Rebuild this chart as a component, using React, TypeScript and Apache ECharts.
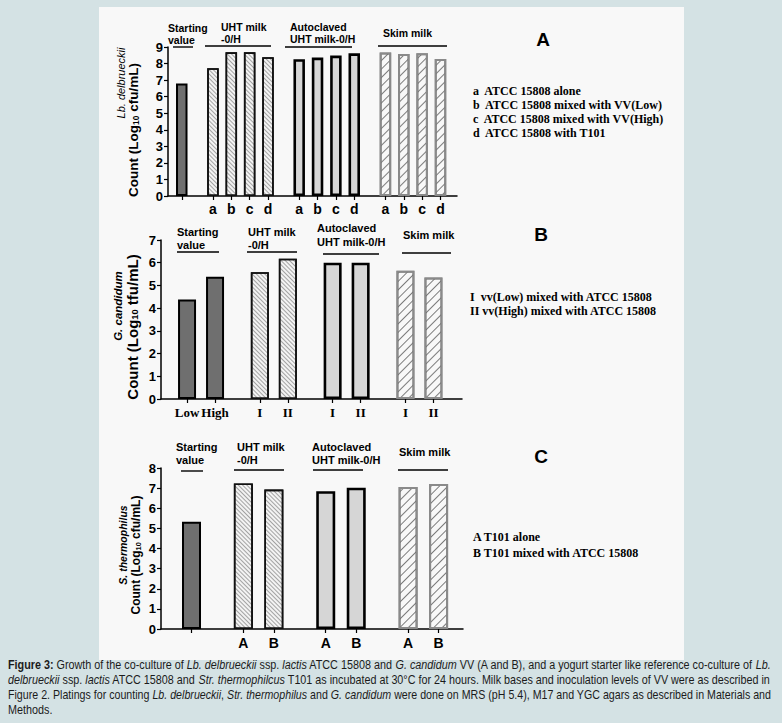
import React, { useEffect, useRef } from "react";
import * as echarts from "echarts";

// ---------- DATA ----------
// Panel A: Lb. delbrueckii counts
const aStartLabels = [""];
const aStartValues = [6.8];
const aLabels = ["a", "b", "c", "d"];
const aUHT = [7.72, 8.68, 8.68, 8.38];
const aAutoclaved = [8.26, 8.36, 8.48, 8.62];
const aSkim = [8.67, 8.57, 8.62, 8.28];

// Panel B: G. candidum counts
const bStartLabels = ["Low", "High"];
const bStartValues = [4.38, 5.38];
const bLabels = ["I", "II"];
const bUHT = [5.58, 6.18];
const bAutoclaved = [6.0, 6.0];
const bSkim = [5.65, 5.35];

// Panel C: S. thermophilus counts
const cStartLabels = [""];
const cStartValues = [5.33];
const cLabels = ["A", "B"];
const cUHT = [7.23, 6.93];
const cAutoclaved = [6.85, 7.02];
const cSkim = [7.05, 7.2];

const groupTitles = [["Starting", "value"], ["UHT milk", "-0/H"], ["Autoclaved", "UHT milk-0/H"], ["Skim milk"]];
const legendA = ["a  ATCC 15808 alone", "b  ATCC 15808 mixed with VV(Low)", "c  ATCC 15808 mixed with VV(High)", "d  ATCC 15808 with T101"];
const legendB = ["I  vv(Low) mixed with ATCC 15808", "II vv(High) mixed with ATCC 15808"];
const legendC = ["A T101 alone", "B T101 mixed with ATCC 15808"];
const captionLines = [
  "{b|Figure 3:} Growth of the co-culture of {i|Lb. delbrueckii} ssp. {i|lactis} ATCC 15808 and {i|G. candidum} VV (A and B), and a yogurt starter like reference co-culture of {i|Lb.}",
  "{i|delbrueckii} ssp. {i|lactis} ATCC 15808 and {i|Str. thermophilcus} T101 as incubated at 30°C for 24 hours. Milk bases and inoculation levels of VV were as described in",
  "Figure 2. Platings for counting {i|Lb. delbrueckii}, {i|Str. thermophilus} and {i|G. candidum} were done on MRS (pH 5.4), M17 and YGC agars as described in Materials and",
  "Methods.",
];

// ---------- STYLE ----------
const SANS = "'Liberation Sans', Arial, Helvetica, sans-serif";
const SERIF = "'Liberation Serif', 'Times New Roman', serif";
const CAP_SIZE = 12.5;

const groupStyles: any[] = [
  { color: "#6f6f6f", borderColor: "#000", borderWidth: 2, decal: "none" },
  {
    color: "#f3f3f3", borderColor: "#111", borderWidth: 1.6,
    decal: { symbol: "rect", symbolSize: 1, dashArrayX: [1, 0], dashArrayY: [1, 2], rotation: Math.PI / 4, color: "rgba(0,0,0,0.33)" },
  },
  { color: "#d6d6d6", borderColor: "#000", borderWidth: 2.6, decal: "none" },
  {
    color: "#f8f8f8", borderColor: "#8a8a8a", borderWidth: 2,
    decal: { symbol: "rect", symbolSize: 1, dashArrayX: [1, 0], dashArrayY: [1, 5], rotation: -Math.PI / 4, color: "rgba(0,0,0,0.5)" },
  },
];

type Group = { labels: string[]; values: number[] };
type Panel = {
  groups: Group[]; lead: number; gap: number; xMax: number; yMax: number;
  grid: { left: number; top: number; width: number; height: number };
  barWidth: number; labelFont: string; labelSize: number; labelMargin: number;
};

const panels: Panel[] = [
  {
    groups: [
      { labels: aStartLabels, values: aStartValues },
      { labels: aLabels, values: aUHT },
      { labels: aLabels, values: aAutoclaved },
      { labels: aLabels, values: aSkim },
    ],
    lead: 0.75, gap: 1.7, xMax: 15.75, yMax: 9,
    grid: { left: 168, top: 47, width: 289, height: 149 },
    barWidth: 11.5, labelFont: SANS, labelSize: 14, labelMargin: 6,
  },
  {
    groups: [
      { labels: bStartLabels, values: bStartValues },
      { labels: bLabels, values: bUHT },
      { labels: bLabels, values: bAutoclaved },
      { labels: bLabels, values: bSkim },
    ],
    lead: 0.93, gap: 1.6, xMax: 10.75, yMax: 7,
    grid: { left: 161, top: 240, width: 301, height: 159 },
    barWidth: 18, labelFont: SERIF, labelSize: 13, labelMargin: 7,
  },
  {
    groups: [
      { labels: cStartLabels, values: cStartValues },
      { labels: cLabels, values: cUHT },
      { labels: cLabels, values: cAutoclaved },
      { labels: cLabels, values: cSkim },
    ],
    lead: 1.0, gap: 1.7, xMax: 9.9, yMax: 8,
    grid: { left: 161, top: 468, width: 302, height: 161 },
    barWidth: 19, labelFont: SANS, labelSize: 14, labelMargin: 7,
  },
];

function layoutPanel(p: Panel) {
  const items: any[] = [];
  let x = p.lead;
  p.groups.forEach((g, gi) => {
    if (gi > 0) x += p.gap - 1;
    g.values.forEach((v, i) => {
      items.push({ pos: x, value: v, label: g.labels[i] || "", style: groupStyles[gi] });
      x += 1;
    });
  });
  return items;
}

function txt(x: number, y: number, text: string, font: any, extra: any = {}) {
  return {
    type: "text", x, y, silent: true,
    style: { text, fill: "#000", align: "left", verticalAlign: "middle", ...font, ...extra },
  };
}
function hline(x1: number, x2: number, y: number, w = 1.4) {
  return { type: "line", silent: true, shape: { x1, y1: y, x2, y2: y }, style: { stroke: "#000", lineWidth: w } };
}

// measure a rich caption line (to fit it to the justified width of the reference)
function measureCaption(line: string): number {
  const canvas = document.createElement("canvas");
  const ctx = canvas.getContext("2d");
  if (!ctx) return 0;
  const re = /\{(\w)\|([^}]*)\}/g;
  let w = 0;
  let last = 0;
  let m: RegExpExecArray | null;
  const add = (t: string, kind: string) => {
    ctx.font = `${kind === "i" ? "italic " : ""}${kind === "b" ? "bold " : ""}${CAP_SIZE}px ${SANS}`;
    w += ctx.measureText(t).width;
  };
  while ((m = re.exec(line))) {
    if (m.index > last) add(line.slice(last, m.index), "n");
    add(m[2], m[1]);
    last = m.index + m[0].length;
  }
  if (last < line.length) add(line.slice(last), "n");
  return w;
}

function buildOption() {
  const laid = panels.map(layoutPanel);
  const grids = panels.map((p) => ({ ...p.grid }));
  const xAxes = panels.map((p, i) => {
    const items = laid[i];
    const labelled = items.filter((d) => d.label !== "");
    return {
      type: "value", gridIndex: i, min: 0, max: p.xMax,
      axisLine: { show: true, onZero: false, lineStyle: { color: "#000", width: 1.5 } },
      axisTick: { show: true, length: 4, customValues: items.map((d) => d.pos), lineStyle: { color: "#000", width: 1.2 } },
      axisLabel: {
        show: true, customValues: labelled.map((d) => d.pos),
        formatter: (v: number) => {
          const f = items.find((d) => Math.abs(d.pos - v) < 1e-6);
          return f ? f.label : "";
        },
        color: "#000", fontFamily: p.labelFont, fontWeight: "bold", fontSize: p.labelSize, margin: p.labelMargin,
      },
      splitLine: { show: false },
    };
  });
  const yAxes = panels.map((p, i) => ({
    type: "value", gridIndex: i, min: 0, max: p.yMax, interval: 1,
    axisLine: { show: true, lineStyle: { color: "#000", width: 1.5 } },
    axisTick: { show: true, length: 4, lineStyle: { color: "#000", width: 1.2 } },
    axisLabel: { color: "#000", fontFamily: SANS, fontWeight: "bold", fontSize: 13, margin: 5 },
    splitLine: { show: false },
  }));
  const series = panels.map((p, i) => ({
    type: "bar", xAxisIndex: i, yAxisIndex: i, barWidth: p.barWidth, silent: true,
    data: laid[i].map((d) => ({ value: [d.pos, d.value], itemStyle: d.style })),
  }));

  const gl = (size: number) => ({ fontFamily: SANS, fontWeight: "bold", fontSize: size });
  const leg = { fontFamily: SERIF, fontWeight: "bold", fontSize: 12 };
  const letter = { fontFamily: SANS, fontWeight: "bold", fontSize: 19, align: "center" };
  const sub = (size: number) => ({ fontFamily: SANS, fontWeight: "bold", fontSize: size * 0.62, padding: [size * 0.45, 0, 0, 0] });
  const yTitle = (x: number, y: number, text: string, size: number) => ({
    type: "text", x, y, rotation: Math.PI / 2, silent: true,
    style: {
      text, fill: "#000", align: "center", verticalAlign: "middle",
      fontFamily: SANS, fontWeight: "bold", fontSize: size,
      rich: {
        n: { fontFamily: SANS, fontWeight: "bold", fontSize: size },
        s: sub(size),
      },
    },
  });
  const yItal = (x: number, y: number, text: string, size: number, weight = "bold") => ({
    type: "text", x, y, rotation: Math.PI / 2, silent: true,
    style: { text, fill: "#000", align: "center", verticalAlign: "middle", fontFamily: SANS, fontStyle: "italic", fontWeight: weight, fontSize: size },
  });

  const capRich = {
    b: { fontFamily: SANS, fontSize: CAP_SIZE, fontWeight: "bold", fill: "#1b1b1b" },
    i: { fontFamily: SANS, fontSize: CAP_SIZE, fontStyle: "italic", fill: "#1b1b1b" },
  };
  const TARGET = 763;
  const widths = captionLines.map(measureCaption);
  const scales = widths.map((w) => (w > 0 ? TARGET / w : 0.85));
  const capLine = (y: number, text: string, sx: number) => ({
    type: "text", x: 8, y, scaleX: sx, silent: true,
    style: { text, fill: "#1b1b1b", fontFamily: SANS, fontSize: CAP_SIZE, verticalAlign: "middle", align: "left", rich: capRich },
  });

  const graphic: any[] = [
    { type: "rect", z: -10, silent: true, shape: { x: 99, y: 7, width: 585, height: 653 }, style: { fill: "#f8f8f8" } },
    // Panel A annotations
    txt(168, 28, groupTitles[0][0], gl(10.5)), txt(168, 40, groupTitles[0][1], gl(10.5)), hline(173, 193, 47),
    txt(221, 27, groupTitles[1][0], gl(10.5)), txt(221, 39, groupTitles[1][1], gl(10.5)), hline(205, 271, 46),
    txt(290, 27, groupTitles[2][0], gl(10.5)), txt(290, 39, groupTitles[2][1], gl(10.5)), hline(285, 352, 47),
    txt(383, 33, groupTitles[3][0], gl(10.5)), hline(378, 447, 46),
    txt(543, 39, "A", letter),
    ...legendA.map((t, k) => txt(473, 91 + k * 14, t, leg)),
    yItal(121, 83, "Lb. delbrueckii", 11, "normal"),
    yTitle(133, 130, "{n|Count (Log}{s|10}{n| cfu/mL)}", 13.5),
    // Panel B annotations
    txt(177, 232, groupTitles[0][0], gl(11)), txt(177, 245, groupTitles[0][1], gl(11)), hline(177, 219, 252),
    txt(248, 232, groupTitles[1][0], gl(11)), txt(248, 245, groupTitles[1][1], gl(11)), hline(247, 297, 252),
    txt(317, 228, groupTitles[2][0], gl(11)), txt(317, 242, groupTitles[2][1], gl(11)), hline(323, 379, 254),
    txt(403, 235, groupTitles[3][0], gl(11)), hline(402, 451, 253),
    txt(541, 234, "B", letter),
    ...legendB.map((t, k) => txt(470, 297 + k * 14, t, leg)),
    yItal(118, 306, "G. candidum", 11.5),
    yTitle(132, 327, "{n|Count (Log}{s|10}{n| tfu/mL)}", 15),
    // Panel C annotations
    txt(176, 447, groupTitles[0][0], gl(11)), txt(176, 460, groupTitles[0][1], gl(11)), hline(181, 203, 471),
    txt(237, 447, groupTitles[1][0], gl(11)), txt(237, 460, groupTitles[1][1], gl(11)), hline(234, 284, 470),
    txt(312, 447, groupTitles[2][0], gl(11)), txt(312, 460, groupTitles[2][1], gl(11)), hline(313, 363, 470),
    txt(399, 452, groupTitles[3][0], gl(11)), hline(398, 448, 470),
    txt(541, 456, "C", letter),
    ...legendC.map((t, k) => txt(473, 537 + k * 16, t, leg)),
    yItal(123, 545, "S. thermophilus", 10.5),
    yTitle(136, 555, "{n|Count (Log}{s|10}{n| cfu/mL)}", 12),
    // Caption
    capLine(664, captionLines[0], scales[0]),
    capLine(679, captionLines[1], scales[1]),
    capLine(694, captionLines[2], scales[2]),
    capLine(709, captionLines[3], scales[0]),
  ];

  return {
    animation: false,
    backgroundColor: "#d4e2e4",
    aria: { enabled: true, decal: { show: true } },
    grid: grids,
    xAxis: xAxes,
    yAxis: yAxes,
    series,
    graphic,
  };
}

export default function App() {
  const ref = useRef<HTMLDivElement>(null);
  useEffect(() => {
    if (!ref.current) return;
    const chart = echarts.init(ref.current, null, { renderer: "svg" });
    chart.setOption(buildOption() as any);
    return () => chart.dispose();
  }, []);
  return <div ref={ref} style={{ position: "fixed", left: 0, top: 0, width: 782, height: 723 }} />;
}
